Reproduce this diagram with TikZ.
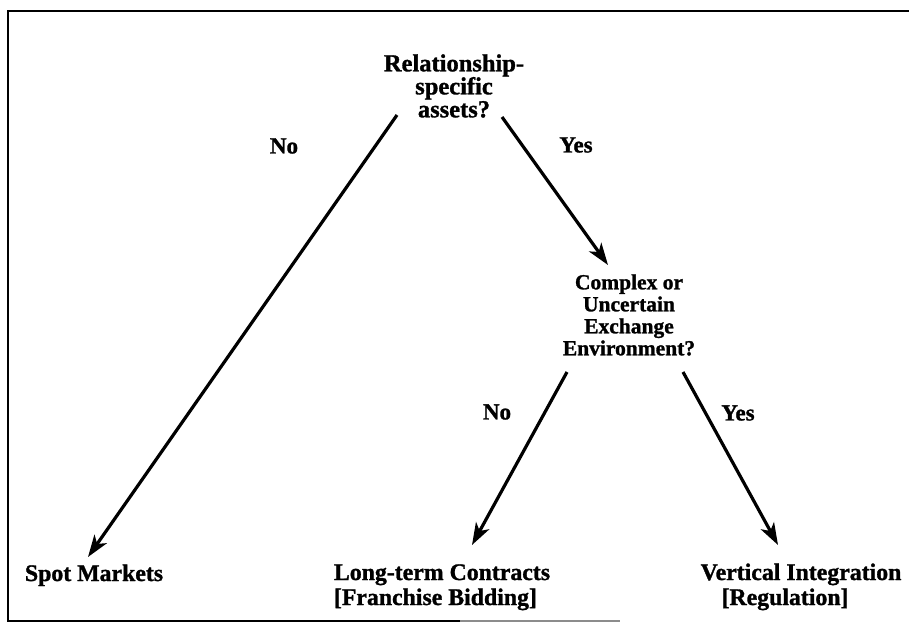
\documentclass[tikz,border=0pt]{standalone}
\usepackage{fontspec}
\setmainfont{Liberation Serif}[BoldFeatures={FakeBold=1.2}]
\usetikzlibrary{arrows.meta}
\tikzset{
  qtop/.style={font=\bfseries\fontsize{24.5}{23}\selectfont, align=center, inner sep=0pt},
  qmid/.style={font=\bfseries\fontsize{21.5}{22}\selectfont, align=center, inner sep=0pt},
  leaf/.style={font=\bfseries\fontsize{23.8}{25}\selectfont, align=center, inner sep=0pt, anchor=base},
  lbl/.style={font=\bfseries\fontsize{23}{25}\selectfont, inner sep=0pt},
  arr/.style={line width=3.2pt, -{Stealth[length=22pt,width=15pt,inset=6pt]}},
  frame/.style={line width=2pt}
}
\begin{document}
\begin{tikzpicture}[x=1pt,y=-1pt]
\useasboundingbox (0,0) rectangle (909,637);
% frame
\draw[frame] (909,11) -- (7.5,11) -- (7.5,621) -- (460,621);
\draw[frame, black!45] (460,621) -- (620,621);
% nodes
\node[qtop] (rsa) at (454,86) {Relationship-\\specific\\assets?};
\node[qmid] (cue) at (629,315) {Complex or\\Uncertain\\Exchange\\Environment?};
\node[leaf] (spot) at (94,581) {Spot Markets};
\node[leaf, align=left] (ltc) at (442,605) {Long-term Contracts\\{[}Franchise Bidding{]}};
\node[leaf] (vi) at (801,605) {Vertical Integration\\{[}Regulation{]}\hspace*{32pt}};
% connector ends
\coordinate (a1s) at (397,115);
\coordinate (a1e) at (88,557);
\coordinate (a2s) at (502,117);
\coordinate (a2e) at (608,265);
\coordinate (a3s) at (567,372);
\coordinate (a3e) at (472,545);
\coordinate (a4s) at (683,372);
\coordinate (a4e) at (778,545);
\draw[arr] (a1s) -- (a1e);
\draw[arr] (a2s) -- (a2e);
\draw[arr] (a3s) -- (a3e);
\draw[arr] (a4s) -- (a4e);
% labels
\node[lbl] (n1) at (284,146) {No};
\node[lbl] (y1) at (576,145) {Yes};
\node[lbl] (n2) at (497,412) {No};
\node[lbl] (y2) at (738,413) {Yes};
\end{tikzpicture}
\end{document}
